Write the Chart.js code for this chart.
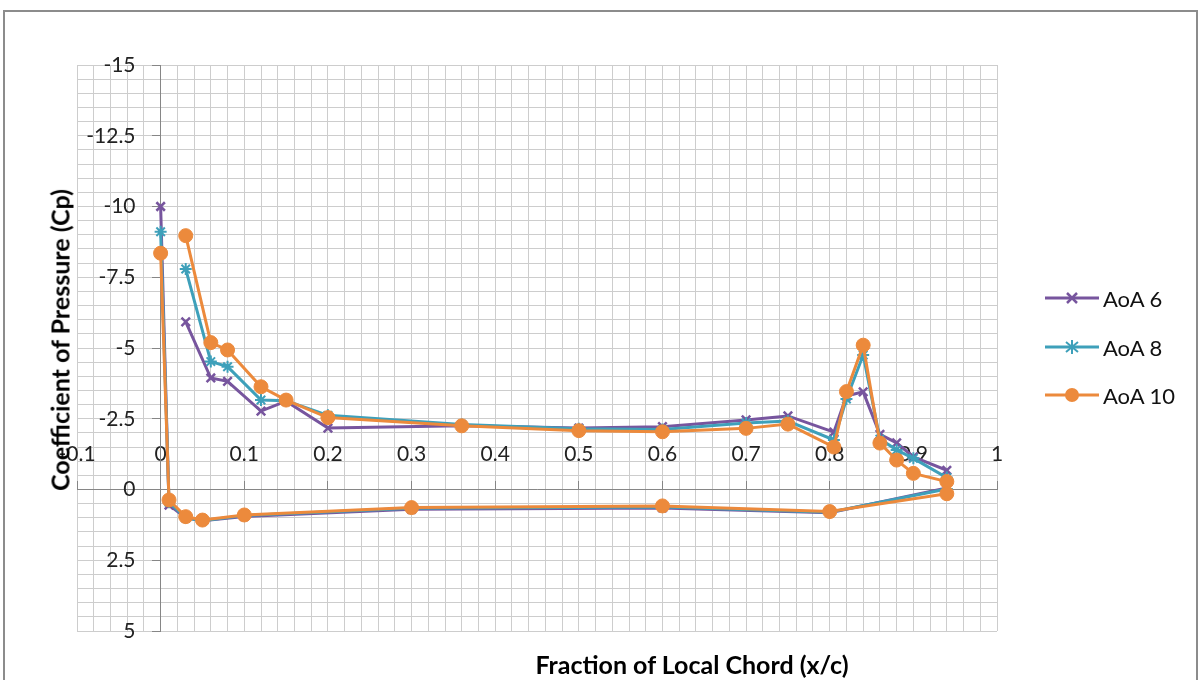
<!DOCTYPE html>
<html>
<head>
<meta charset="utf-8">
<script src="https://cdn.jsdelivr.net/npm/chart.js@4"></script>
<style>
  body { margin: 0; width: 1199px; height: 680px; overflow: hidden; background: #fff; position: relative; font-family: Lato, "Open Sans", sans-serif; }
  #frame { position: absolute; left: 3px; top: 10px; width: 1191px; height: 720px; border: 2px solid #8c8c8c; }
  #c { position: absolute; left: 0; top: 0; }
  .title { position: absolute; font-weight: bold; font-size: 25px; color: #000; white-space: nowrap; line-height: 1; }
  #xTitle { left: 692px; top: 652px; transform: translateX(-50%); }
  #yTitle { left: 60px; top: 340px; transform: translate(-50%, -50%) rotate(-90deg); }
  .leg { position: absolute; left: 1045px; height: 24px; display: flex; align-items: center; font-size: 22px; color: #111; }
  .leg svg { margin-right: 4px; }
</style>
</head>
<body>
<div id="frame"></div>
<canvas id="c" width="1199" height="680"></canvas>
<div class="title" id="xTitle">Fraction of Local Chord (x/c)</div>
<div class="title" id="yTitle">Coefficient of Pressure (Cp)</div>
<div id="legend"></div>
<script>
// chordwise stations: upper surface from 0.03 to trailing edge, then lower surface back to leading edge
const upperX = [0.03, 0.06, 0.08, 0.12, 0.15, 0.2, 0.36, 0.5, 0.6, 0.7, 0.75, 0.805, 0.82, 0.84, 0.86, 0.88, 0.9, 0.94];
const lowerX = [0.94, 0.8, 0.6, 0.3, 0.1, 0.05, 0.03, 0.01, 0];

const seriesNames = ["AoA 6", "AoA 8", "AoA 10"];
const seriesColors = ["#77559e", "#3ea0ba", "#ec8a3c"];

const aoa6Upper = [-5.92, -3.94, -3.82, -2.77, -3.12, -2.17, -2.25, -2.17, -2.22, -2.46, -2.6, -2.03, -3.3, -3.45, -1.95, -1.65, -1.15, -0.68];
const aoa6Lower = [-0.05, 0.82, 0.65, 0.7, 0.95, 1.1, 1.0, 0.55, -10];
const aoa8Upper = [-7.79, -4.52, -4.34, -3.16, -3.14, -2.62, -2.3, -2.15, -2.12, -2.35, -2.42, -1.75, -3.2, -4.75, -1.78, -1.4, -1.1, -0.42];
const aoa8Lower = [-0.02, 0.8, 0.62, 0.66, 0.92, 1.1, 1.0, 0.45, -9.11];
const aoa10Upper = [-8.97, -5.19, -4.93, -3.63, -3.16, -2.54, -2.25, -2.08, -2.04, -2.16, -2.31, -1.5, -3.46, -5.1, -1.64, -1.04, -0.57, -0.28];
const aoa10Lower = [0.15, 0.78, 0.58, 0.64, 0.9, 1.08, 0.96, 0.37, -8.35];

const xTicks = { min: -0.1, max: 1, step: 0.1, minor: 0.02 };
const yTicks = { min: -15, max: 5, step: 2.5, minor: 0.5 };

function toPoints(upper, lower) {
  const pts = upperX.map((x, i) => ({ x: x, y: upper[i] }));
  return pts.concat(lowerX.map((x, i) => ({ x: x, y: lower[i] })));
}

const fmt = v => String(Math.round(v * 100) / 100);
const tickFont = { family: "Lato", size: 21 };
const gridColor = "#cdcdcd";
const axisColor = "#868686";

new Chart(document.getElementById("c"), {
  type: "scatter",
  data: {
    datasets: [
      {
        label: seriesNames[0],
        data: toPoints(aoa6Upper, aoa6Lower),
        showLine: true,
        borderColor: seriesColors[0],
        backgroundColor: seriesColors[0],
        borderWidth: 3,
        pointStyle: "crossRot",
        pointRadius: 6,
        pointBorderWidth: 2.5,
        order: 3
      },
      {
        label: seriesNames[1],
        data: toPoints(aoa8Upper, aoa8Lower),
        showLine: true,
        borderColor: seriesColors[1],
        backgroundColor: seriesColors[1],
        borderWidth: 3,
        pointStyle: "star",
        pointRadius: 6,
        pointBorderWidth: 2,
        order: 2
      },
      {
        label: seriesNames[2],
        data: toPoints(aoa10Upper, aoa10Lower),
        showLine: true,
        borderColor: seriesColors[2],
        backgroundColor: seriesColors[2],
        borderWidth: 3,
        pointStyle: "circle",
        pointRadius: 7,
        pointBorderWidth: 1,
        order: 1
      }
    ]
  },
  options: {
    responsive: false,
    animation: false,
    devicePixelRatio: 1,
    layout: { padding: { left: 77, top: 65, right: 202, bottom: 49 } },
    plugins: {
      legend: { display: false },
      tooltip: { enabled: false }
    },
    elements: { line: { tension: 0 } },
    scales: {
      xMinor: {
        type: "linear", position: "bottom", min: xTicks.min, max: xTicks.max,
        ticks: { display: false, stepSize: xTicks.minor },
        grid: { color: gridColor, drawTicks: false },
        border: { display: false }
      },
      yMinor: {
        type: "linear", position: "left", reverse: true, min: yTicks.min, max: yTicks.max,
        ticks: { display: false, stepSize: yTicks.minor },
        grid: { color: gridColor, drawTicks: false },
        border: { display: false }
      },
      x: {
        type: "linear", position: { y: 0 }, min: xTicks.min, max: xTicks.max,
        ticks: { stepSize: xTicks.step, callback: fmt, padding: -39, color: "#222", font: tickFont, maxRotation: 0, autoSkip: false },
        grid: { drawOnChartArea: false, tickLength: -9, color: axisColor },
        border: { display: true, color: axisColor }
      },
      y: {
        type: "linear", position: { x: 0 }, reverse: true, min: yTicks.min, max: yTicks.max,
        ticks: { display: false, stepSize: yTicks.step },
        grid: { drawOnChartArea: false, tickLength: 8, color: axisColor },
        border: { display: true, color: axisColor }
      },
      // tick labels of the vertical axis sit a little left of the axis line
      yLabels: {
        type: "linear", position: { x: -0.03 }, reverse: true, min: yTicks.min, max: yTicks.max,
        ticks: { stepSize: yTicks.step, callback: fmt, color: "#222", font: tickFont, autoSkip: false },
        grid: { display: false },
        border: { display: false }
      }
    }
  }
});

// legend: line sample with marker, like the spreadsheet legend
const markers = [
  c => `<path d="M22 6 L32 16 M32 6 L22 16" stroke="${c}" stroke-width="2.5"/>`,
  c => `<path d="M21 6 L33 16 M33 6 L21 16 M27 4 L27 18 M20 11 L34 11" stroke="${c}" stroke-width="2"/>`,
  c => `<circle cx="27" cy="11" r="7" fill="${c}"/>`
];
const legendTops = [298, 347, 395];
const legend = document.getElementById("legend");
seriesNames.forEach((name, i) => {
  const row = document.createElement("div");
  row.className = "leg";
  row.style.top = (legendTops[i] - 12) + "px";
  row.innerHTML = `<svg width="54" height="22"><line x1="0" y1="11" x2="54" y2="11" stroke="${seriesColors[i]}" stroke-width="3"/>${markers[i](seriesColors[i])}</svg><span>${name}</span>`;
  legend.appendChild(row);
});
</script>
</body>
</html>
